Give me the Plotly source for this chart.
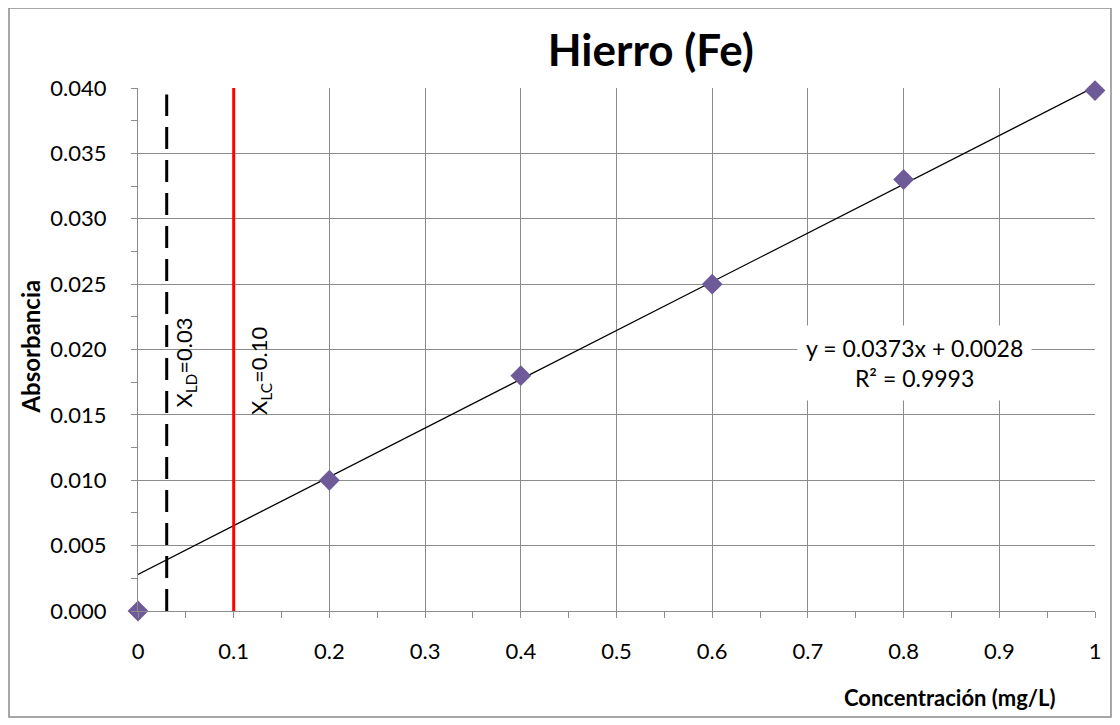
import plotly.graph_objects as go

conc = [0, 0.2, 0.4, 0.6, 0.8, 1.0]
absorb = [0.0, 0.010, 0.018, 0.025, 0.033, 0.0398]
slope = 0.0373
intercept = 0.0028
x_ld = 0.03
x_lc = 0.10
x_ticks = [0, 0.1, 0.2, 0.3, 0.4, 0.5, 0.6, 0.7, 0.8, 0.9, 1]
x_tick_labels = ["0", "0.1", "0.2", "0.3", "0.4", "0.5", "0.6", "0.7", "0.8", "0.9", "1"]

FONT = "Lato, Calibri, 'Open Sans', sans-serif"
GRID = "#8c8c8c"

fig = go.Figure()

# trendline
fit_x = [0, 1]
fit_y = [intercept + slope * v for v in fit_x]
fig.add_trace(go.Scatter(x=fit_x, y=fit_y, mode="lines",
                         line=dict(color="black", width=1.3), showlegend=False, hoverinfo="skip"))
# LD line
fig.add_trace(go.Scatter(x=[x_ld, x_ld], y=[0, 0.0395], mode="lines",
                         line=dict(color="black", width=3, dash="22px,11px"), showlegend=False))
# LC line
fig.add_trace(go.Scatter(x=[x_lc, x_lc], y=[0, 0.040], mode="lines",
                         line=dict(color="#ff0000", width=3), showlegend=False))
# data points
fig.add_trace(go.Scatter(x=conc, y=absorb, mode="markers",
                         marker=dict(symbol="diamond", size=16, color="#6e5a98",
                                     line=dict(width=0)),
                         showlegend=False, cliponaxis=False))

fig.update_layout(
    width=1112, height=717,
    margin=dict(l=130, r=25, t=80, b=114),
    paper_bgcolor="white", plot_bgcolor="white",
    font=dict(family=FONT, size=23, color="black"),
    title=dict(text="<b>Hierro (Fe)</b>", x=0.578, xanchor="center", y=0.941, yanchor="middle",
               font=dict(size=44, family=FONT)),
    xaxis=dict(range=[0, 1], tickvals=x_ticks, ticktext=x_tick_labels,
               showgrid=True, gridcolor=GRID, gridwidth=1,
               showline=True, linecolor=GRID, linewidth=1,
               ticks="outside", ticklen=6, tickcolor=GRID,
               minor=dict(dtick=0.05, ticks="outside", ticklen=6, tickcolor=GRID, showgrid=False),
               zeroline=False, tickfont=dict(size=22), ticklabelstandoff=15),
    yaxis=dict(range=[0, 0.040], dtick=0.005, tickformat=".3f",
               showgrid=True, gridcolor=GRID, gridwidth=1,
               showline=True, linecolor=GRID, linewidth=1,
               ticks="outside", ticklen=6, tickcolor=GRID,
               minor=dict(dtick=0.0025, ticks="outside", ticklen=6, tickcolor=GRID, showgrid=False),
               zeroline=False, tickfont=dict(size=22), ticklabelstandoff=20),
)

# outer chart border
fig.add_shape(type="rect", xref="paper", yref="paper",
              x0=-0.1348, x1=1.0167, y0=-0.2027, y1=1.153,
              line=dict(color="#8a8a8a", width=1.5), fillcolor="rgba(0,0,0,0)", layer="below")

# axis titles
fig.add_annotation(text="<b>Absorbancia</b>", xref="paper", yref="paper",
                   x=-0.1118, y=0.5057, textangle=-90, showarrow=False,
                   font=dict(size=24, family=FONT), xanchor="center", yanchor="middle")
fig.add_annotation(text="<b>Concentración (mg/L)</b>", xref="paper", yref="paper",
                   x=0.8485, y=-0.165, showarrow=False,
                   font=dict(size=22, family=FONT), xanchor="center", yanchor="middle")

# equation box
fig.add_annotation(text="y = 0.0373x + 0.0028<br>R² = 0.9993", x=0.8109, y=0.0190,
                   xref="x", yref="y", showarrow=False, bgcolor="white",
                   font=dict(size=23, family=FONT), align="center",
                   borderpad=8)

# limit labels
fig.add_annotation(text="X<sub>LD</sub>=0.03", x=0.0491, y=0.0190, xref="x", yref="y",
                   textangle=-90, showarrow=False, font=dict(size=22, family=FONT))
fig.add_annotation(text="X<sub>LC</sub>=0.10", x=0.1275, y=0.01836, xref="x", yref="y",
                   textangle=-90, showarrow=False, font=dict(size=22, family=FONT))

fig.write_html("out.html")
